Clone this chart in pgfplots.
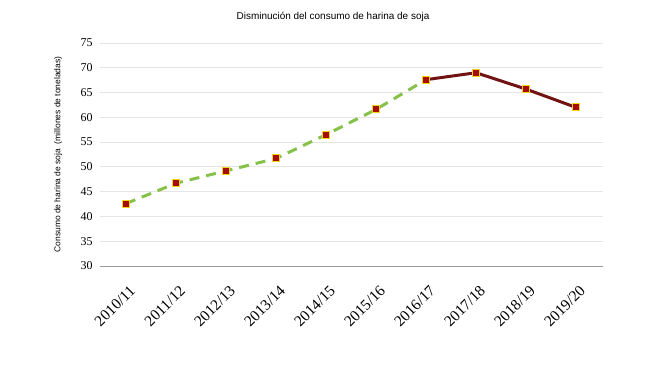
\documentclass[border=0pt]{standalone}
\usepackage{pgfplots}
\pgfplotsset{compat=1.18}
\usepackage{fontspec}
\setmainfont{Liberation Serif}
\newfontfamily\arial{Liberation Sans}
\definecolor{lgreen}{HTML}{86C14A}
\definecolor{dred}{HTML}{721313}
\definecolor{mred}{HTML}{A30D0D}
\definecolor{myel}{HTML}{F5D31A}
\begin{document}
\begin{tikzpicture}[x=1bp,y=1bp]
\path[use as bounding box] (0,0) rectangle (650,366);
\node[font=\arial\fontsize{10}{12}\selectfont] at (333,349) {Disminución del consumo de harina de soja};
\begin{axis}[
  at={(100bp,100bp)}, anchor=south west,
  scale only axis, width=503bp, height=223bp,
  xmin=-0.52, xmax=9.54, ymin=30, ymax=75,
  ytick={30,35,...,75},
  xtick={0,...,9},
  xticklabels={2010/11,2011/12,2012/13,2013/14,2014/15,2015/16,2016/17,2017/18,2018/19,2019/20},
  x tick label style={rotate=45, anchor=north east, font=\fontsize{15.5}{16}\selectfont, inner sep=0pt, xshift=-11bp, yshift=-15bp},
  y tick label style={font=\fontsize{12}{13}\selectfont, xshift=-4bp},
  /pgf/number format/assume math mode=true,
  axis line style={draw=none},
  tick style={draw=none},
  ymajorgrids, grid style={draw=black!10, line width=0.8bp},
  ylabel={Consumo de harina de soja\ \ (millones de toneladas)},
  ylabel style={font=\arial\fontsize{8.5}{10}\selectfont, at={(axis description cs:-0.083,0.5)}, anchor=center},
  clip=false,
]
\draw[black!40, line width=0.8bp] (axis cs:-0.52,30) -- (axis cs:9.54,30);
\addplot[lgreen, line width=3bp, dash pattern=on 10bp off 7bp, mark=square*, mark size=3.5bp, mark options={solid, fill=mred, draw=myel, line width=1bp}] coordinates {
(0,42.6) (1,46.7) (2,49.2) (3,51.7) (4,56.5) (5,61.6) (6,67.6)
};
\addplot[dred, line width=3bp, mark=square*, mark size=3.5bp, mark options={solid, fill=mred, draw=myel, line width=1bp}] coordinates {
(6,67.6) (7,69.0) (8,65.7) (9,62.0)
};
\end{axis}
\end{tikzpicture}
\end{document}
